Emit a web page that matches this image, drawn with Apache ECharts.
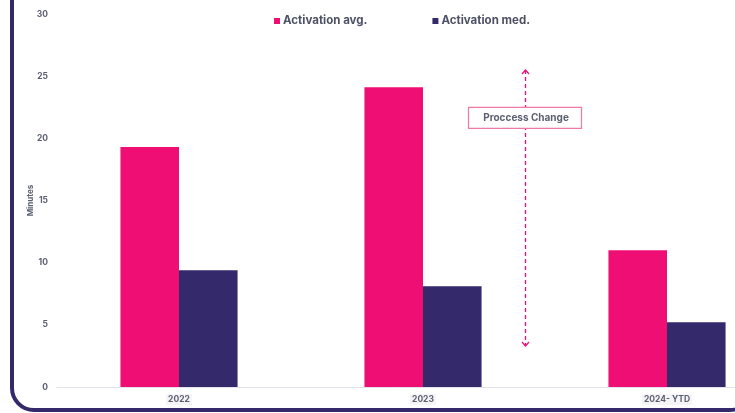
<!DOCTYPE html>
<html>
<head>
<meta charset="utf-8">
<script src="https://cdn.jsdelivr.net/npm/echarts@6/dist/echarts.min.js"></script>
<style>
  html, body { margin: 0; padding: 0; background: #fff; }
  #main { width: 735px; height: 413px; }
</style>
</head>
<body>
<div id="main"></div>
<script>
// data
const categories = ['2022', '2023', '2024- YTD'];
const avgValues = [19.3, 24.1, 11.0];
const medValues = [9.4, 8.1, 5.2];
const seriesNames = ['Activation avg.', 'Activation med.'];
const yTicks = [0, 5, 10, 15, 20, 25, 30];

const pink = '#ee0e74';
const navy = '#33296b';
const labelColor = '#5b6072';
const font = 'Inter, "Liberation Sans", sans-serif';

const mChart = echarts.init(document.getElementById('main'));

const option = {
  backgroundColor: '#fff',
  animation: false,
  textStyle: {fontFamily: font},
  legend: {
    data: seriesNames,
    left: 269,
    top: 10,
    itemWidth: 6,
    itemHeight: 6,
    itemGap: 65,
    icon: 'rect',
    textStyle: {fontSize: 11.5, fontWeight: 'bold', color: '#4c5165', fontFamily: font, padding: [0, 0, 0, -2]}
  },
  grid: {
    left: 57,
    top: 14,
    bottom: 26,
    width: 732,
    containLabel: false,
    outerBoundsMode: 'none'
  },
  xAxis: {
    type: 'category',
    data: categories,
    axisLine: {show: true, lineStyle: {color: '#e2e2ea', width: 1}},
    axisTick: {show: false},
    axisLabel: {
      color: labelColor,
      fontSize: 8.5,
      fontWeight: 'bold',
      margin: 7,
      backgroundColor: '#f5f5f7',
      padding: [1, 2]
    }
  },
  yAxis: {
    type: 'value',
    min: yTicks[0],
    max: yTicks[yTicks.length - 1],
    interval: 5,
    name: 'Minutes',
    nameLocation: 'middle',
    nameGap: 22,
    nameMoveOverlap: false,
    nameRotate: 90,
    nameTextStyle: {color: labelColor, fontSize: 8, fontWeight: 'bold'},
    axisLine: {show: false},
    axisTick: {show: false},
    splitLine: {show: false},
    axisLabel: {
      color: labelColor,
      fontSize: 8.5,
      fontWeight: 'bold',
      margin: 9
    }
  },
  series: [
    {
      name: seriesNames[0],
      type: 'bar',
      data: avgValues,
      barGap: '0%',
      barCategoryGap: '52%',
      itemStyle: {color: pink}
    },
    {
      name: seriesNames[1],
      type: 'bar',
      data: medValues,
      itemStyle: {color: navy}
    }
  ]
};

mChart.setOption(option);

// annotation + frame, placed from the axis scales
const band = mChart.convertToPixel({xAxisIndex: 0}, categories[2]) - mChart.convertToPixel({xAxisIndex: 0}, categories[1]);
const lx = Math.round(mChart.convertToPixel({xAxisIndex: 0}, categories[1]) + band * 0.42) + 0.5;
const yTop = mChart.convertToPixel({yAxisIndex: 0}, 25.5);
const yBot = mChart.convertToPixel({yAxisIndex: 0}, 3.3);
const yBox = mChart.convertToPixel({yAxisIndex: 0}, 21.65);

mChart.setOption({
  graphic: [
    {
      type: 'rect',
      z: 100,
      shape: {x: 12, y: -60, width: 740, height: 470, r: 22},
      style: {fill: 'none', stroke: navy, lineWidth: 4}
    },
    {
      type: 'line',
      shape: {x1: lx, y1: yTop, x2: lx, y2: yBot},
      style: {stroke: pink, lineWidth: 1.3, lineDash: [4, 3]}
    },
    {
      type: 'polyline',
      shape: {points: [[lx - 3.5, yTop + 4], [lx, yTop], [lx + 3.5, yTop + 4]]},
      style: {stroke: pink, lineWidth: 1.3, fill: 'none'}
    },
    {
      type: 'polyline',
      shape: {points: [[lx - 3.5, yBot - 4], [lx, yBot], [lx + 3.5, yBot - 4]]},
      style: {stroke: pink, lineWidth: 1.3, fill: 'none'}
    },
    {
      type: 'rect',
      shape: {x: lx - 57, y: yBox - 10.5, width: 113, height: 21},
      style: {fill: '#fff', stroke: '#f07aa6', lineWidth: 1.2}
    },
    {
      type: 'text',
      x: lx + 0.5,
      y: yBox,
      style: {
        text: 'Proccess Change',
        fill: labelColor,
        font: 'bold 10px ' + font,
        align: 'center',
        verticalAlign: 'middle'
      }
    }
  ]
});
</script>
</body>
</html>
